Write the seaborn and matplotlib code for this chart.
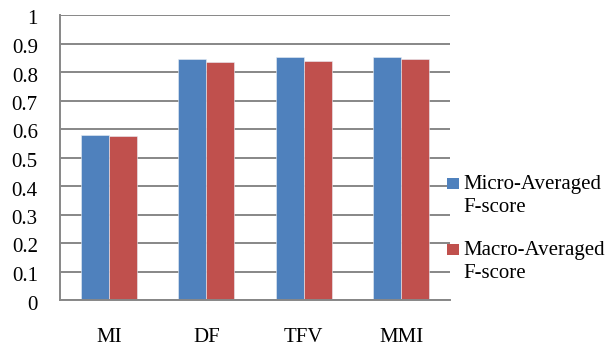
import matplotlib
matplotlib.use("Agg")
import matplotlib.pyplot as plt
from matplotlib.patches import Rectangle
import matplotlib.transforms as mtransforms
import numpy as np
import pandas as pd
import seaborn as sns

methods = ["MI", "DF", "TFV", "MMI"]
micro_f = [0.580, 0.847, 0.851, 0.853]
macro_f = [0.577, 0.836, 0.840, 0.847]
series_names = ["Micro-Averaged\nF-score", "Macro-Averaged\nF-score"]
y_ticks = [0, 0.1, 0.2, 0.3, 0.4, 0.5, 0.6, 0.7, 0.8, 0.9, 1.0]
y_tick_labels = ["0", "0.1", "0.2", "0.3", "0.4", "0.5", "0.6", "0.7", "0.8", "0.9", "1"]

colors = ["#4F81BD", "#C0504D"]
grid_gray = "#878787"
FS = 15

df = pd.DataFrame({
    "method": methods * 2,
    "score": micro_f + macro_f,
    "series": [series_names[0]] * len(methods) + [series_names[1]] * len(methods),
})

sns.set_style("white")
plt.rcParams["font.family"] = ["Liberation Serif", "DejaVu Serif"]
plt.rcParams["text.color"] = "black"
plt.rcParams["xtick.labelcolor"] = "black"
plt.rcParams["ytick.labelcolor"] = "black"

fig = plt.figure(figsize=(6.08, 3.5), dpi=100)
W, H = 608, 350
ax = fig.add_axes([60 / W, 50 / H, 390 / W, 285 / H])

sns.barplot(data=df, x="method", y="score", hue="series", order=methods,
            hue_order=series_names, palette=colors, width=0.575, gap=0,
            edgecolor="#e8eef6", linewidth=0.4, saturation=1, legend=False, ax=ax)

ax.set_xlim(-0.5, len(methods) - 0.5)
ax.set_ylim(0, 1)
ax.set_yticks(y_ticks)
ax.set_yticklabels(y_tick_labels)
ax.set_xlabel("")
ax.set_ylabel("")

# horizontal gridlines behind bars
ax.set_axisbelow(True)
ax.yaxis.grid(True, color=grid_gray, linewidth=1.4)
ax.xaxis.grid(False)

for side in ["top", "right"]:
    ax.spines[side].set_visible(False)
for side in ["left", "bottom"]:
    ax.spines[side].set_color(grid_gray)
    ax.spines[side].set_linewidth(1.4)

ax.tick_params(axis="y", which="major", length=5, width=1.4, color=grid_gray,
               direction="out", labelsize=FS, pad=11, labelcolor="black")
ax.tick_params(axis="x", which="major", length=0, labelsize=FS, pad=20,
               labelcolor="black")
# category separator ticks below the x axis
ax.set_xticks(np.arange(-0.5, len(methods)), minor=True)
ax.tick_params(axis="x", which="minor", length=3, width=1.4, color=grid_gray,
               direction="out")

# value labels sit slightly below their gridlines
shift = mtransforms.ScaledTranslation(0, -2.5 / 100, fig.dpi_scale_trans)
for lbl in ax.get_yticklabels():
    lbl.set_transform(lbl.get_transform() + shift)

# legend: square beside the first line of each entry
first_baselines = [188.5, 255]
line_step = 23.5
for name, col, yb in zip(series_names, colors, first_baselines):
    fig.add_artist(Rectangle((447 / W, 1 - yb / H), 12 / W, 11 / H,
                             transform=fig.transFigure, facecolor=col, edgecolor="none"))
    for i, line in enumerate(name.split("\n")):
        fig.text(463 / W, 1 - (yb + i * line_step) / H, line, fontsize=FS,
                 va="baseline", ha="left", color="black")

fig.savefig("out.png", dpi=100)
